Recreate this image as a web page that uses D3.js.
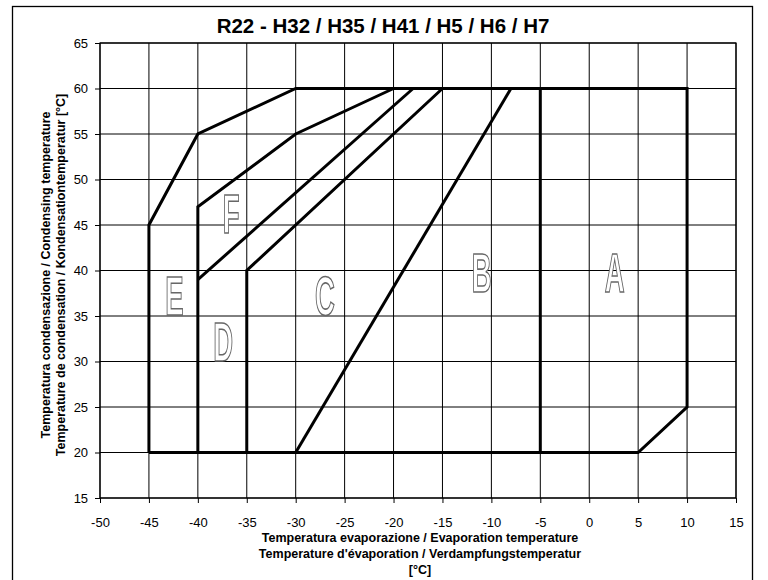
<!DOCTYPE html>
<html><head><meta charset="utf-8">
<script src="https://cdn.jsdelivr.net/npm/d3@7"></script>
<style>body{margin:0;background:#fff}svg{display:block}.zone{opacity:0.99}</style>
</head><body>
<svg id="c" width="768" height="580"></svg>
<script>
// ---- data ----
const title = "R22 - H32 / H35 / H41 / H5 / H6 / H7";
const xTicks = [-50,-45,-40,-35,-30,-25,-20,-15,-10,-5,0,5,10,15];
const yTicks = [15,20,25,30,35,40,45,50,55,60,65];
// envelope boundary (evaporation, condensing)
const outline = [[-45,20],[-45,45],[-40,55],[-30,60],[10,60],[10,25],[5,20],[-45,20]];
const lineAB = [[-5,20],[-5,60]];
const lineBC = [[-30,20],[-8,60]];
const lineEF = [[-40,20],[-40,47],[-30,55],[-20,60]];
const lineDF = [[-40,39],[-18,60]];
const lineCD = [[-35,20],[-35,40],[-15,60]];
const zoneNames = ["A","B","C","D","E","F"];
const zoneX = [2.6,-11,-27,-37.4,-42.4,-36.6];
const zoneY = [39.8,39.8,37.3,32.3,37.3,46.3];
const yLabel = ["Temperatura condensazione / Condensing temperature","Temperature de condensation / Kondensationtemperatur [°C]"];
const xLabel = ["Temperatura evaporazione / Evaporation temperature","Temperature d'évaporation / Verdampfungstemperatur","[°C]"];

// ---- chart ----
const FONT = "Liberation Sans, Arial, sans-serif";
const svg = d3.select("#c");
const L=100,R=736,T=43,B=498;
const x = d3.scaleLinear().domain([-50,15]).range([L,R]);
const y = d3.scaleLinear().domain([15,65]).range([B,T]);

svg.append("rect").attr("x",12.5).attr("y",6.5).attr("width",740).attr("height",590)
  .attr("fill","none").attr("stroke","#000").attr("stroke-width",1.3);

svg.append("text").attr("x",383).attr("y",33).attr("text-anchor","middle")
  .attr("font-family",FONT).attr("font-weight","bold")
  .attr("font-size",20.5).text(title);

const g = svg.append("g");
g.selectAll(".vg").data(xTicks).join("line")
  .attr("x1",d=>x(d)).attr("x2",d=>x(d)).attr("y1",T).attr("y2",B)
  .attr("stroke","#000").attr("stroke-width",1);
g.selectAll(".hg").data(yTicks).join("line")
  .attr("y1",d=>y(d)).attr("y2",d=>y(d)).attr("x1",L).attr("x2",R)
  .attr("stroke","#000").attr("stroke-width",1);
g.append("rect").attr("x",L).attr("y",T).attr("width",R-L).attr("height",B-T)
  .attr("fill","none").attr("stroke","#000").attr("stroke-width",1.2);

const fmt = d => String(d);
const xa = svg.append("g").attr("transform",`translate(0,${B})`)
  .call(d3.axisBottom(x).tickValues(xTicks).tickSize(5).tickSizeOuter(0).tickFormat(fmt));
const ya = svg.append("g").attr("transform",`translate(${L},0)`)
  .call(d3.axisLeft(y).tickValues(yTicks).tickSize(5).tickSizeOuter(0).tickFormat(fmt));
[xa,ya].forEach(a=>{
  a.select(".domain").remove();
  a.selectAll("line").attr("stroke","#000");
  a.selectAll("text").attr("font-family",FONT).attr("font-size",13).attr("fill","#000");
});
xa.selectAll("text").attr("dy","1.6em");
ya.selectAll("text").attr("dx","-0.3em");

const line = d3.line().x(d=>x(d[0])).y(d=>y(d[1]));
[outline,lineAB,lineBC,lineEF,lineDF,lineCD].forEach(p=>{
  svg.append("path").attr("d",line(p)).attr("fill","none").attr("stroke","#000")
    .attr("stroke-width",3).attr("stroke-linejoin","miter");
});

const zg = svg.append("g").attr("class","zone");
zoneNames.forEach((n,i)=>{
  zg.append("text").attr("transform",`translate(${x(zoneX[i])},${y(zoneY[i])+20}) scale(0.5,1)`)
    .attr("text-anchor","middle").attr("font-family",FONT)
    .attr("font-weight","bold").attr("font-size",55).attr("fill","#fff")
    .attr("stroke","#666").attr("stroke-width",1.3).attr("vector-effect","non-scaling-stroke").text(n);
});

yLabel.forEach((t,i)=>{
  svg.append("text").attr("transform",`translate(${50+i*15},${275}) rotate(-90)`)
    .attr("text-anchor","middle").attr("font-family",FONT)
    .attr("font-weight","bold").attr("font-size",12.5).text(t);
});
xLabel.forEach((t,i)=>{
  svg.append("text").attr("x",420).attr("y",542+i*16).attr("text-anchor","middle")
    .attr("font-family",FONT)
    .attr("font-weight","bold").attr("font-size",12.5).text(t);
});
</script>
</body></html>
